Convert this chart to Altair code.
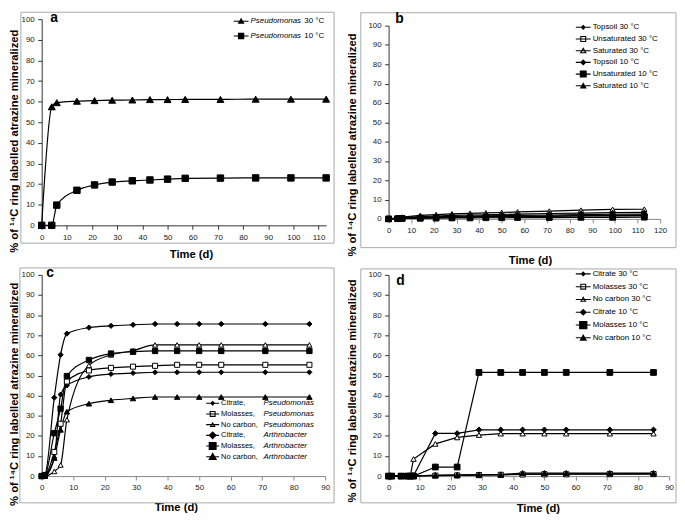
import json
import math
import altair as alt
import pandas as pd

# ---------------- data: panel a ----------------
days_a = [0, 4, 6, 14, 21, 28, 36, 43, 50, 57, 71, 85, 99, 113]
series_a = ["Pseudomonas 30 °C", "Pseudomonas 10 °C"]
pseudomonas30_a = [0, 57.5, 59.5, 60.2, 60.5, 60.7, 60.8, 61.0, 61.0, 61.1, 61.1, 61.2, 61.2, 61.2]
pseudomonas10_a = [0, 0, 9.8, 17.0, 19.6, 21.0, 21.6, 22.0, 22.4, 22.8, 22.9, 23.0, 23.0, 23.0]
xticks_a = [0, 10, 20, 30, 40, 50, 60, 70, 80, 90, 100, 110]

# ---------------- data: panel b ----------------
days_b = [0, 4, 6, 14, 21, 28, 36, 43, 50, 57, 71, 85, 99, 113]
series_b = ["Topsoil 30 °C", "Unsaturated 30 °C", "Saturated 30 °C",
            "Topsoil 10 °C", "Unsaturated 10 °C", "Saturated 10 °C"]
topsoil30_b = [0, 0.3, 0.5, 0.9, 1.1, 1.3, 1.5, 1.6, 1.7, 1.8, 2.0, 2.2, 2.4, 2.5]
unsaturated30_b = [0, 0.2, 0.3, 0.5, 0.7, 0.8, 0.9, 1.0, 1.1, 1.2, 1.3, 1.5, 1.6, 1.7]
saturated30_b = [0, 0.6, 0.9, 1.8, 2.2, 2.6, 2.9, 3.1, 3.3, 3.6, 4.0, 4.5, 4.9, 5.0]
topsoil10_b = [0, 0.2, 0.3, 0.6, 0.8, 1.0, 1.1, 1.2, 1.3, 1.4, 1.5, 1.7, 1.8, 1.9]
unsaturated10_b = [0, 0.1, 0.2, 0.3, 0.4, 0.5, 0.5, 0.6, 0.6, 0.7, 0.7, 0.8, 0.8, 0.9]
saturated10_b = [0, 0.4, 0.6, 1.2, 1.5, 1.8, 2.0, 2.1, 2.3, 2.5, 2.8, 3.0, 3.2, 3.4]
xticks_b = [0, 10, 20, 30, 40, 50, 60, 70, 80, 90, 100, 110, 120]

# ---------------- data: panel c ----------------
days_c = [0, 1, 4, 6, 8, 15, 22, 29, 36, 43, 50, 57, 71, 85]
series_c = ["Citrate, Pseudomonas", "Molasses, Pseudomonas", "No carbon, Pseudomonas",
            "Citrate, Arthrobacter", "Molasses, Arthrobacter", "No carbon, Arthrobacter"]
citrate_pseudo_c = [0, 0.5, 9, 40.5, 45, 49.3, 50.7, 51.2, 51.6, 51.6, 51.6, 51.6, 51.6, 51.6]
molasses_pseudo_c = [0, 0.5, 12, 26, 47, 52.5, 53.8, 54.4, 54.8, 55.3, 55.3, 55.3, 55.3, 55.3]
nocarbon_pseudo_c = [0, 0, 2.3, 5.5, 28, 55, 60.2, 62.3, 65.2, 65.2, 65.2, 65.2, 65.2, 65.2]
citrate_arthro_c = [0, 0.5, 39, 60.3, 70.8, 73.8, 74.7, 75.2, 75.6, 75.6, 75.6, 75.6, 75.6, 75.6]
molasses_arthro_c = [0, 0.5, 21.3, 33.5, 49.7, 57.7, 60.9, 61.8, 62.2, 62.2, 62.2, 62.2, 62.2, 62.2]
nocarbon_arthro_c = [0, 0, 9, 23, 32, 36, 37.7, 38.6, 39.3, 39.3, 39.3, 39.3, 39.3, 39.3]
xticks_c = [0, 10, 20, 30, 40, 50, 60, 70, 80, 90]

# ---------------- data: panel d ----------------
days_d = [0, 1, 4, 6, 7, 8, 15, 22, 29, 36, 43, 50, 57, 71, 85]
series_d = ["Citrate 30 °C", "Molasses 30 °C", "No carbon 30 °C",
            "Citrate 10 °C", "Molasses 10 °C", "No carbon 10 °C"]
citrate30_d = [0, 0, 0, 0, 0, 0.2, 0.3, 0.4, 0.6, 0.7, 1.0, 1.0, 1.1, 1.1, 1.2]
molasses30_d = [0, 0, 0, 0, 0, 0.1, 0.2, 0.3, 0.5, 0.6, 0.8, 0.9, 0.9, 1.0, 1.0]
nocarbon30_d = [0, 0, 0, 0, 0.3, 8.5, 16.0, 19.2, 20.4, 21.1, 21.1, 21.1, 21.1, 21.1, 21.1]
citrate10_d = [0, 0, 0, 0, 0, 0.2, 21.2, 21.2, 23.0, 23.0, 23.0, 23.0, 23.0, 23.0, 23.0]
molasses10_d = [0, 0, 0, 0, 0, 0, 4.5, 4.5, 51.5, 51.5, 51.5, 51.5, 51.5, 51.5, 51.5]
nocarbon10_d = [0, 0, 0, 0, 0, 0, 0.5, 0.6, 0.8, 0.8, 1.5, 1.5, 1.5, 1.5, 1.5]
xticks_d = [0, 10, 20, 30, 40, 50, 60, 70, 80, 90]

yticks = [0, 10, 20, 30, 40, 50, 60, 70, 80, 90, 100]
y_title = "% of \u00b9\u2074C ring labelled atrazine mineralized"
x_title = "Time (d)"
panel_letters = ["a", "b", "c", "d"]

FONT = "Liberation Sans"
# degenerate (zero-area) sub-path: gives every legend symbol the same height
SPACER = "M0,-1 L0,1"


# ---------------- legend symbol paths (line stub + marker) ----------------
def shape_pts(kind, a):
    if kind == "square":
        return [(-a, -a), (a, -a), (a, a), (-a, a)]
    if kind == "diamond":
        return [(0, -a), (a, 0), (0, a), (-a, 0)]
    return [(0, -a), (a, 0.75 * a), (-a, 0.75 * a)]


def incircle(kind, pts):
    if kind == "triangle-up":
        A, B, C = pts
        la, lb, lc = math.dist(B, C), math.dist(A, C), math.dist(A, B)
        s = la + lb + lc
        cx = (la * A[0] + lb * B[0] + lc * C[0]) / s
        cy = (la * A[1] + lb * B[1] + lc * C[1]) / s
        area = abs((B[0] - A[0]) * (C[1] - A[1]) - (C[0] - A[0]) * (B[1] - A[1])) / 2
        return cx, cy, 2 * area / s
    a = max(p[0] for p in pts)
    if kind == "diamond":
        return 0.0, 0.0, a / math.sqrt(2)
    return 0.0, 0.0, a


def poly(pts):
    return "M" + " L".join(f"{x:.3f},{y:.3f}" for x, y in pts) + " Z"


def legend_path(kind, filled, a, half_w, t=0.11, ring=0.22):
    path = poly([(-half_w, -t), (half_w, -t), (half_w, t), (-half_w, t)])
    outer = shape_pts(kind, a)
    path += " " + poly(outer)
    if not filled:
        cx, cy, r = incircle(kind, outer)
        k = max(0.0, 1 - ring / r)
        inner = [(cx + k * (x - cx), cy + k * (y - cy)) for x, y in outer][::-1]
        path += " " + poly(inner)
    return path + " " + SPACER


def expr_list(items):
    return json.dumps(items, ensure_ascii=False)


# ---------------- panel builder ----------------
def make_panel(p):
    names = p["names"]
    rows = []
    for name, vals in zip(names, p["values"]):
        for d, v in zip(p["days"], vals):
            rows.append({"day": d, "value": v, "series": name})
    df = pd.DataFrame(rows)
    w, h = p["w"], p["h"]

    x = alt.X("day:Q",
              scale=alt.Scale(domain=p["xdomain"], nice=False, zero=True),
              axis=alt.Axis(values=p["xticks"], title=x_title,
                            titleX=p["xtitle"][0], titleY=p["xtitle"][1],
                            domainColor=p["xcolor"], tickColor=p["xcolor"],
                            labelPadding=4, labelFlush=False, labelOverlap=False))
    y = alt.Y("value:Q",
              scale=alt.Scale(domain=[0, 100], nice=False),
              axis=alt.Axis(values=yticks, title=y_title,
                            titleX=p["ytitle"][0], titleY=p["ytitle"][1],
                            labelPadding=3.5, labelOverlap=False))

    fx0, fx1, fy0, fy1 = p["frame"]
    one = pd.DataFrame({"panel": [p["letter"]]})
    frame = alt.Chart(one).mark_rect(
        fill="white", fillOpacity=0, stroke="#a8a8a8", strokeWidth=1
    ).encode(x=alt.value(fx0), x2=alt.value(w + fx1), y=alt.value(fy0), y2=alt.value(h + fy1))

    lpx, lpy = p["letter_pos"]
    letter = alt.Chart(one).mark_text(
        font=FONT, fontSize=14, fontWeight="bold", color="black", align="center", baseline="middle"
    ).encode(text="panel:N", x=alt.value(lpx), y=alt.value(lpy))

    base = alt.Chart(df)
    lines = base.mark_line(interpolate=p["interp"], color="black", strokeWidth=1.2).encode(
        x=x, y=y, detail="series:N")
    points = base.mark_point(filled=True, opacity=1, stroke="black", strokeWidth=1).encode(
        x=x, y=y,
        shape=alt.Shape("series:N", scale=alt.Scale(domain=names, range=p["shapes"]), legend=None),
        fill=alt.Fill("series:N", scale=alt.Scale(domain=names, range=p["fills"]), legend=None),
        size=alt.Size("series:N", scale=alt.Scale(domain=names, range=p["sizes"]), legend=None),
    )

    paths = [legend_path(k, f == "black", a, p["stub"])
             for k, f, a in zip(p["shapes"], p["fills"], p["leg_half"])]
    keys = pd.DataFrame({"series": names, "idx": list(range(len(names)))})
    lx, ly, rpad = p["legend"]
    leg1 = alt.Chart(keys).transform_filter("false").mark_point(
        filled=True, opacity=1, color="black"
    ).encode(
        shape=alt.Shape("series:N", scale=alt.Scale(domain=names, range=paths),
                        legend=alt.Legend(orient="none", legendX=lx, legendY=ly, title=None,
                                          direction="vertical", symbolSize=100,
                                          symbolStrokeWidth=0, symbolFillColor="black",
                                          symbolOpacity=1, labelOffset=p["labeloff"],
                                          rowPadding=rpad, padding=0, labelLimit=0,
                                          labelFont=FONT, labelFontSize=p.get("lab1_size", 8),
                                          labelColor="black",
                                          labelFontStyle=p["lab1_style"],
                                          labelExpr=expr_list(p["lab1"]) + "[indexof("
                                          + expr_list(names) + ", datum.label)]"))
    )
    layers = [frame, letter, lines, points, leg1]
    if p.get("lab2"):
        leg2 = alt.Chart(keys).transform_filter("false").mark_point(
            filled=True, opacity=1
        ).encode(
            color=alt.Color("idx:O", scale=alt.Scale(domain=list(range(len(names))),
                                                      range=["black"] * len(names)),
                            legend=alt.Legend(orient="none", legendX=p["lab2_x"], legendY=ly,
                                              title=None, direction="vertical", symbolSize=100,
                                              symbolType=SPACER, symbolStrokeWidth=0,
                                              symbolOpacity=0, labelOffset=0,
                                              rowPadding=rpad, padding=0, labelLimit=0,
                                              labelFont=FONT, labelFontSize=8, labelColor="black",
                                              labelFontStyle=p["lab2_style"],
                                              labelExpr=expr_list(p["lab2"]) + "[datum.value]"))
        )
        layers.append(leg2)

    return alt.layer(*layers).resolve_scale(shape="independent").properties(width=w, height=h)


panel_a = make_panel(dict(
    names=series_a, days=days_a, values=[pseudomonas30_a, pseudomonas10_a],
    shapes=["triangle-up", "square"], fills=["black", "black"], sizes=[49, 42],
    leg_half=[0.7, 0.64], stub=1.5, interp="monotone",
    xdomain=[0, 113], xticks=xticks_a, w=287, h=208, xcolor="#333333",
    frame=(-21, 8, -7, 18), ytitle=(-22, 122.6), xtitle=(150.6, 23),
    legend=(196.2, -2.9, 4.9), labeloff=4.5,
    lab1=[n.split(" ")[0] for n in series_a], lab1_style="italic",
    lab2=[n.split(" ", 1)[1] for n in series_a], lab2_style="normal", lab2_x=255,
    letter=panel_letters[0], letter_pos=(12.5, -1.3),
))

panel_b = make_panel(dict(
    names=series_b, days=days_b,
    values=[topsoil30_b, unsaturated30_b, saturated30_b, topsoil10_b, unsaturated10_b, saturated10_b],
    shapes=["diamond", "square", "triangle-up", "diamond", "square", "triangle-up"],
    fills=["black", "white", "white", "black", "black", "black"],
    sizes=[25, 36, 42, 42, 49, 49],
    leg_half=[0.52, 0.6, 0.7, 0.64, 0.7, 0.7], stub=1.5, interp="linear",
    xdomain=[0, 120], xticks=xticks_b, w=274, h=195, xcolor="#888888",
    frame=(-28, 16, -13, 29), ytitle=(-31.5, 120), xtitle=(142.7, 36.4),
    legend=(191.4, -3.3, 1.8), labeloff=4.5,
    lab1=series_b, lab1_style="normal",
    letter=panel_letters[1], letter_pos=(11, -6.6),
))

panel_c = make_panel(dict(
    names=series_c, days=days_c,
    values=[citrate_pseudo_c, molasses_pseudo_c, nocarbon_pseudo_c,
            citrate_arthro_c, molasses_arthro_c, nocarbon_arthro_c],
    shapes=["diamond", "square", "triangle-up", "diamond", "square", "triangle-up"],
    fills=["black", "white", "white", "black", "black", "black"],
    sizes=[25, 30, 30, 64, 56, 64],
    leg_half=[0.52, 0.6, 0.6, 0.84, 0.8, 0.9], stub=1.3, interp="monotone",
    xdomain=[0, 90], xticks=xticks_c, w=286, h=203, xcolor="#888888",
    frame=(-22, 9, -7, 27), ytitle=(-22, 120), xtitle=(135.3, 26),
    legend=(167.5, 124.5, 0.8), labeloff=3.5,
    lab1=[n.split(", ")[0] + "," for n in series_c], lab1_style="normal", lab1_size=7.6,
    lab2=[n.split(", ")[1] for n in series_c], lab2_style="italic", lab2_x=213.7,
    letter=panel_letters[2], letter_pos=(8.6, -2.3),
))

panel_d = make_panel(dict(
    names=series_d, days=days_d,
    values=[citrate30_d, molasses30_d, nocarbon30_d, citrate10_d, molasses10_d, nocarbon10_d],
    shapes=["diamond", "square", "triangle-up", "diamond", "square", "triangle-up"],
    fills=["black", "white", "white", "black", "black", "black"],
    sizes=[25, 36, 36, 56, 64, 49],
    leg_half=[0.52, 0.6, 0.64, 0.72, 0.84, 0.76], stub=1.5, interp="linear",
    xdomain=[0, 90], xticks=xticks_d, w=283, h=203, xcolor="#888888",
    frame=(-28, 7, -6, 27), ytitle=(-31, 116.5), xtitle=(150.6, 26.8),
    legend=(191.4, -6, 2.9), labeloff=4.5,
    lab1=series_d, lab1_style="normal",
    letter=panel_letters[3], letter_pos=(12, 5.7),
))

indep = dict(shape="independent", fill="independent", size="independent", color="independent")
chart = alt.concat(
    panel_a, panel_b, panel_c, panel_d,
    columns=2, bounds="flush", align="all",
    center={"row": True, "column": False},
    spacing={"row": 50, "column": 63},
).resolve_scale(**indep).properties(
    padding=0, background="white"
).configure_view(strokeWidth=0).configure_axis(
    grid=False, domainColor="#333333", domainWidth=1, tickColor="#333333", tickWidth=1,
    tickSize=4, labelFont=FONT, labelFontSize=8, labelColor="#222222",
    titleFont=FONT, titleFontSize=11.3, titleFontWeight="bold", titleColor="black",
).configure_legend(labelFont=FONT)

chart.save("out.html", embed_options={"renderer": "svg", "actions": False})
